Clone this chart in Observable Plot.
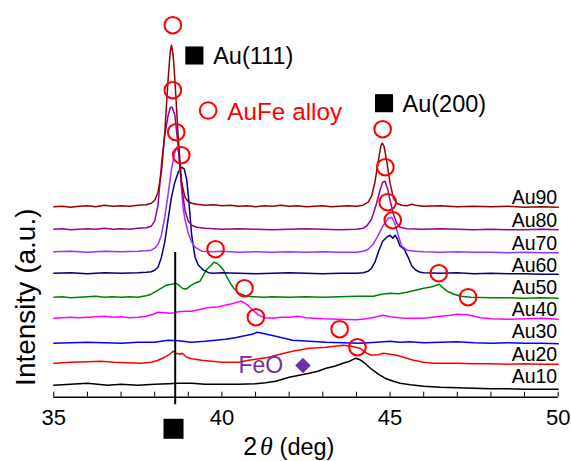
<!DOCTYPE html>
<html>
<head>
<meta charset="utf-8">
<script src="https://cdn.jsdelivr.net/npm/d3@7"></script>
<script src="https://cdn.jsdelivr.net/npm/@observablehq/plot@0.6"></script>
<style>
  html, body { margin: 0; padding: 0; background: white; overflow: hidden; }
  svg { display: block; }
</style>
</head>
<body>
<div id="chart"></div>
<script>
// ---- Data: [2θ (deg), intensity (a.u., offset-stacked)] ----
const au10 = [[35,12],[35.5,13],[36,14],[36.3,13],[36.6,12],[37,13],[37.5,12],[38,13],[38.4,13.5],[38.7,14],[39.1,14],[39.5,13],[40,13],[40.5,13],[41,13.5],[41.3,14.5],[41.6,16],[41.8,18],[42,20],[42.3,22],[42.6,24],[42.85,26],[43.1,29],[43.35,31],[43.6,34],[43.8,36],[43.98,39],[44.1,37.5],[44.25,34],[44.45,28],[44.65,23],[44.85,19],[45.1,16],[45.3,14],[45.6,12.5],[46,11],[46.5,10],[47,9.5],[47.5,9],[48,8.5],[48.5,8.5],[49,8],[49.5,8],[50,8]];
const au20 = [[35,34],[35.5,35],[36,35.5],[36.4,36],[36.8,35],[37.2,34.5],[37.6,34],[37.9,35],[38.1,37],[38.3,40],[38.45,43],[38.55,46],[38.63,44],[38.75,43],[38.82,44],[38.95,40],[39.1,38.5],[39.4,37],[39.7,36],[40,35],[40.5,35],[40.8,37],[41.1,38.5],[41.4,40],[41.6,42],[41.85,44],[42.1,46],[42.35,47.5],[42.6,49],[42.85,49.5],[43.1,50],[43.35,51],[43.6,52],[43.85,51],[44.1,49],[44.3,44],[44.45,42],[44.65,42.5],[44.8,44],[45,43],[45.2,42],[45.4,40],[45.7,37],[46,35],[46.3,34],[47,34],[47.5,33.5],[48,33.5],[48.5,33],[49,33.5],[49.5,33],[50,33]];
const au30 = [[35,54],[35.5,54.5],[36,55],[36.5,54.5],[37,54],[37.5,55],[38,55],[38.4,57],[38.7,56.5],[39.1,55],[39.5,56],[39.8,57],[40.1,58],[40.4,59.5],[40.6,61],[40.9,63],[41.05,65],[41.2,64],[41.4,62.5],[41.6,61],[41.85,59],[42.1,57],[42.6,56],[43.1,55],[43.6,54.5],[44.1,54],[44.6,55],[45,56],[45.3,55],[45.6,55.5],[46,54.5],[46.5,55],[47,55.5],[47.5,54.5],[48,54],[48.5,54.5],[49,54],[49.5,54],[50,53.5]];
const au40 = [[35,79],[35.25,79.5],[35.5,80],[35.75,79.5],[36,80],[36.25,80.5],[36.5,81],[36.75,80],[37,80.5],[37.25,79.5],[37.5,80],[37.75,81],[37.95,83],[38.1,85],[38.3,84.5],[38.5,84],[38.7,85.5],[38.9,86],[39.1,86],[39.3,87.5],[39.5,89],[39.7,90],[39.9,90.5],[40.1,92],[40.3,93.5],[40.5,95.5],[40.58,96],[40.68,94],[40.8,91],[40.95,86],[41.1,82],[41.25,79.5],[41.5,79],[41.75,80],[42,80],[42.25,81],[42.5,79.5],[43,78.5],[43.5,78],[44,77.5],[44.3,78.5],[44.6,80.5],[44.8,82],[45,80.5],[45.25,79.5],[45.5,79],[46,79],[46.5,81],[46.8,82],[47,83],[47.3,82.5],[47.5,81],[47.7,79.5],[48,78.5],[48.5,78],[49,78.5],[49.5,79],[50,78]];
const au50 = [[35,100],[35.25,100.5],[35.5,99.5],[35.75,100],[36,100.5],[36.25,101],[36.5,100],[36.75,100.5],[37,100],[37.25,100.5],[37.5,100],[37.75,101.5],[37.9,103],[38.05,106],[38.2,109],[38.35,112],[38.5,113],[38.62,114],[38.72,112],[38.82,109],[38.94,108],[39.05,111],[39.2,114],[39.35,116],[39.45,122],[39.55,128],[39.65,131],[39.76,135],[39.85,134],[39.95,131],[40.05,127],[40.15,120],[40.25,114],[40.35,109],[40.5,104],[40.7,101.5],[40.9,100.5],[41.25,100],[41.5,100.5],[42,100],[42.5,100.5],[43,100],[43.5,100.5],[44,101],[44.5,101],[44.75,103],[45,104],[45.25,103.5],[45.5,105],[45.75,107],[46,109],[46.25,110.5],[46.47,113],[46.55,110],[46.7,106],[46.9,103],[47.1,101],[47.4,100],[48,99.5],[48.5,99.5],[49,99],[49.5,99.5],[50,99]];
const au60 = [[35,124],[35.5,124.5],[36,123.5],[36.5,124.5],[37,124],[37.5,124.5],[37.75,125],[37.9,125.5],[38,127],[38.1,130],[38.2,140],[38.3,155],[38.4,178],[38.5,200],[38.6,215],[38.7,225],[38.8,230],[38.88,228],[38.95,218],[39,202],[39.1,162],[39.2,140],[39.3,132],[39.45,127],[39.6,124.5],[39.75,124],[40,124.5],[40.5,124],[41,123.5],[41.5,124],[42,124.5],[42.5,124],[43,123.5],[43.5,124],[44,124],[44.2,124.5],[44.35,126],[44.45,129],[44.55,135],[44.65,145],[44.78,156],[44.9,160],[45,162],[45.08,159],[45.15,162],[45.22,158],[45.3,151],[45.42,148],[45.55,139],[45.65,131],[45.77,127],[45.9,125],[46,124.5],[46.5,124],[47,124.5],[47.5,123.5],[48,124],[48.5,123.5],[49,123.5],[49.5,123],[50,123]];
const au70 = [[35,145.5],[35.5,146],[36,145],[36.5,146],[37,145.5],[37.5,146],[37.75,146.5],[37.9,147],[38,149],[38.1,153],[38.2,162],[38.3,180],[38.4,203],[38.5,228],[38.6,245],[38.66,250],[38.72,244],[38.8,207],[38.85,188],[38.9,178],[39,164],[39.1,155],[39.2,150],[39.4,146],[39.75,145.5],[40,146],[40.5,145],[41,145.5],[41.5,145],[42,145.5],[42.5,145],[43,145.5],[43.5,145],[44,145],[44.2,146],[44.35,148],[44.5,153],[44.65,162],[44.8,172],[44.95,179],[45.05,180],[45.15,173],[45.25,161],[45.35,151],[45.5,147],[45.75,146],[46,145.5],[46.5,145],[47,145.5],[47.5,145],[48,145],[48.5,144.5],[49,145],[49.5,144.5],[50,144.5]];
const au80 = [[35,168],[35.25,168.5],[35.5,167.5],[35.75,168],[36,168.5],[36.25,168],[36.5,169],[36.75,168],[37,168.5],[37.25,168],[37.5,169],[37.75,169.5],[37.9,171],[38,176],[38.1,192],[38.2,232],[38.3,262],[38.4,282],[38.47,290],[38.52,290],[38.6,282],[38.7,250],[38.8,212],[38.9,187],[39,176],[39.1,172],[39.25,170],[39.5,169],[39.75,168.5],[40,168],[40.5,168.5],[41,168],[41.5,167.5],[42,168],[42.5,168.5],[43,168],[43.5,167.5],[44,168],[44.2,169],[44.3,171],[44.45,178],[44.6,194],[44.7,207],[44.78,215],[44.85,216],[44.93,208],[45,197],[45.1,183],[45.2,174],[45.3,170],[45.5,168.5],[46,168],[46.5,168.5],[47,168],[47.5,167.5],[48,168],[48.5,167.5],[49,167.5],[49.5,168],[50,167.5]];
const au90 = [[35,190.5],[35.25,191],[35.5,190],[35.75,191],[36,191.5],[36.25,190.5],[36.5,192],[36.75,191],[37,191.5],[37.25,191],[37.5,192],[37.75,192.5],[37.9,194],[38,197],[38.1,205],[38.2,225],[38.3,265],[38.4,318],[38.46,345],[38.5,352],[38.55,342],[38.6,318],[38.7,260],[38.8,215],[38.9,200],[39,195.5],[39.1,194],[39.25,193],[39.5,192],[39.75,192.5],[40,191.5],[40.25,192],[40.5,191],[40.75,191.5],[41,190.5],[41.25,191.5],[41.5,191],[41.75,192],[42,191],[42.25,191.5],[42.5,190.5],[42.75,191],[43,191.5],[43.25,190.5],[43.5,191],[43.75,191.5],[44,191],[44.2,192],[44.35,195],[44.45,201],[44.55,215],[44.65,236],[44.73,252],[44.77,254],[44.82,251],[44.9,236],[45,214],[45.1,199],[45.2,194],[45.35,192],[45.5,191.5],[45.65,193],[45.75,192],[46,191],[46.5,191.5],[47,190.5],[47.5,191],[48,190.5],[48.5,191],[49,190],[49.5,190.5],[50,190]];

const seriesNames = ["Au10","Au20","Au30","Au40","Au50","Au60","Au70","Au80","Au90"];
const seriesColors = ["#000000","#ff0000","#0000ff","#ff00ff","#008000","#000080","#9933ff","#990099","#990000"];
const seriesData = [au10, au20, au30, au40, au50, au60, au70, au80, au90];

// series label positions [2θ, intensity]
const labelX = [49.97,49.97,49.97,49.97,49.97,49.97,49.97,49.97,49.97];
const labelY = [14,36.7,59,81.7,103.4,125,147.4,170.7,193.4];

// AuFe alloy peak markers (open circles) [2θ, intensity]
const alloyX = [38.54,38.54,38.64,38.79,44.78,44.86,44.93,45.08,39.81,40.67,41.01,43.50,44.03,46.45,47.32];
const alloyY = [372,307,265,242,268,230,195,177,148,109,80,68,50,124,100];

// x-axis ticks
const xTicks = [35,36,37,38,39,40,41,42,43,44,45,46,47,48,49,50];
const xTickLabels = [35,40,45,50];

// Au reference (111) position
const au111Ref = 38.61;

// ---- Build table ----
const rows = seriesData.flatMap((s, i) => s.map(([x, y]) => ({x, y, name: seriesNames[i]})));
const labels = seriesNames.map((n, i) => ({x: labelX[i], y: labelY[i], text: n}));
const alloy = alloyX.map((x, i) => ({x, y: alloyY[i]}));

const font = "'Liberation Sans', Arial, Helvetica, sans-serif";

const chart = Plot.plot({
  width: 571,
  height: 461,
  marginLeft: 53.3,
  marginRight: 13.3,
  marginTop: 16.7,
  marginBottom: 64.3,
  x: {domain: [35, 50], axis: null},
  y: {domain: [0, 380], axis: null},
  color: {domain: seriesNames, range: seriesColors},
  style: {fontFamily: font, background: "white", overflow: "visible"},
  marks: [
    Plot.line(rows, {x: "x", y: "y", z: "name", stroke: "name", strokeWidth: 1.5}),
    Plot.ruleY([0], {stroke: "black", strokeWidth: 1.5}),
    Plot.ruleX(xTicks, {x: d => d, y1: 0, y2: 5, stroke: "black", strokeWidth: 1}),
    Plot.text(xTickLabels, {x: d => d, y: -27.6, text: d => String(d), fontSize: 22, lineAnchor: "bottom", fill: "black"}),
    Plot.ruleX([au111Ref], {x: d => d, y1: -7.6, y2: 144.7, stroke: "black", strokeWidth: 2}),
    Plot.dot([{x: 38.56, y: -31.6}], {x: "x", y: "y", symbol: "square", r: 11.3, fill: "black", stroke: "none"}),
    // series labels
    Plot.text(labels, {x: "x", y: "y", text: "text", textAnchor: "end", lineAnchor: "bottom", fontSize: 19.5, fill: "black"}),
    // alloy markers
    Plot.dot(alloy, {x: "x", y: "y", r: 8.3, stroke: "#ff0000", strokeWidth: 2, fill: "none"}),
    // legend / annotations
    Plot.dot([{x: 39.18, y: 341.7}, {x: 44.82, y: 294}], {x: "x", y: "y", symbol: "square", r: 10.2, fill: "black", stroke: "none"}),
    Plot.text([{x: 39.74, y: 333.4, t: "Au(111)"}, {x: 45.37, y: 285.7, t: "Au(200)"}], {x: "x", y: "y", text: "t", textAnchor: "start", lineAnchor: "bottom", fontSize: 23.5, fill: "black"}),
    Plot.dot([{x: 39.59, y: 286.7}], {x: "x", y: "y", r: 8.3, stroke: "#ff0000", strokeWidth: 2, fill: "none"}),
    Plot.text([{x: 40.16, y: 277.4, t: "AuFe alloy"}], {x: "x", y: "y", text: "t", textAnchor: "start", lineAnchor: "bottom", fontSize: 24.3, fill: "#ff0000"}),
    Plot.text([{x: 40.49, y: 24, t: "FeO"}], {x: "x", y: "y", text: "t", textAnchor: "start", lineAnchor: "bottom", fontSize: 23, fill: "#7030a0"}),
    Plot.dot([{x: 42.41, y: 31.7}], {x: "x", y: "y", symbol: "diamond2", r: 7, fill: "#7030a0", stroke: "none"}),
    // axis titles
    Plot.text([{x: 40.637, y: -57.5, t: "2"}], {x: "x", y: "y", text: "t", textAnchor: "start", lineAnchor: "bottom", fontSize: 25, fill: "black"}),
    Plot.text([{x: 41.134, y: -57.5, t: "θ"}], {x: "x", y: "y", text: "t", textAnchor: "start", lineAnchor: "bottom", fontSize: 26, fontStyle: "italic", fontFamily: "'Liberation Serif', 'Times New Roman', serif", fill: "black"}),
    Plot.text([{x: 41.714, y: -57.5, t: "(deg)"}], {x: "x", y: "y", text: "t", textAnchor: "start", lineAnchor: "bottom", fontSize: 23.5, fill: "black"}),
    Plot.text([{x: 34.452, y: 100, t: "Intensity (a.u.)"}], {x: "x", y: "y", text: "t", rotate: -90, lineAnchor: "bottom", fontSize: 28, fill: "black"})
  ]
});
document.getElementById("chart").appendChild(chart);
</script>
</body>
</html>
